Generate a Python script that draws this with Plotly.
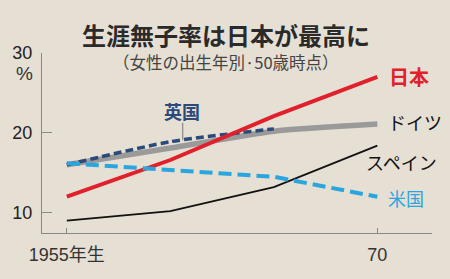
import plotly.graph_objects as go

years = [1955, 1960, 1965, 1970]
japan = [12.0, 16.6, 22.1, 27.0]
germany = [16.0, 18.1, 20.2, 21.1]
spain = [9.0, 10.2, 13.2, 18.4]
usa = [16.2, 15.4, 14.5, 12.0]
uk_years = [1955, 1960, 1965]
uk = [16.0, 18.9, 20.5]

x_tickvals = [1955, 1970]
x_ticktext = ["1955年生", "70"]
y_tickvals = [10, 20, 30]
y_ticktext = ["10", "20", "30"]

BG = "#e6dfd3"
FONT = "Liberation Sans, Noto Sans CJK JP, sans-serif"
CJK = "Noto Sans CJK JP, sans-serif"

fig = go.Figure()
fig.add_trace(go.Scatter(x=years, y=germany, mode="lines",
                         line=dict(color="#9a9a9a", width=5.5, shape="spline", smoothing=0.6)))
fig.add_trace(go.Scatter(x=uk_years, y=uk, mode="lines",
                         line=dict(color="#2b4a7a", width=3.5, dash="8px,4px", shape="spline", smoothing=0.6)))
fig.add_trace(go.Scatter(x=years, y=spain, mode="lines",
                         line=dict(color="#111111", width=1.8)))
fig.add_trace(go.Scatter(x=years, y=japan, mode="lines",
                         line=dict(color="#e0202a", width=4)))
fig.add_trace(go.Scatter(x=years, y=usa, mode="lines",
                         line=dict(color="#2aa6df", width=4, dash="13px,6px")))

labels = [
    ("日本", 1970.45, 27.1, "#e0202a", 20, True),
    ("ドイツ", 1970.4, 21.4, "#111111", 18, False),
    ("スペイン", 1969.34, 16.4, "#111111", 18, False),
    ("米国", 1970.4, 11.9, "#2aa6df", 18, False),
]
for text, x, y, c, s, b in labels:
    fig.add_annotation(x=x, y=y, text=f"<b>{text}</b>" if b else text, showarrow=False,
                       xanchor="left", yanchor="middle",
                       font=dict(family=CJK, size=s, color=c))
fig.add_annotation(x=1960.58, y=22.7, text="<b>英国</b>", showarrow=False,
                   xanchor="center", yanchor="middle",
                   font=dict(family=CJK, size=18, color="#2b4a7a"))
fig.add_shape(type="line", x0=1960.6, x1=1960.6, y0=21.25, y1=19.1,
              line=dict(color="#777777", width=1))

fig.add_annotation(xref="paper", yref="paper", x=-0.0454, y=0.8835, text="%", showarrow=False,
                   xanchor="center", yanchor="middle",
                   font=dict(family=FONT, size=19, color="#333333"))

fig.add_annotation(xref="paper", yref="paper", x=0.472, y=1.105,
                   text="<b>生涯無子率は日本が最高に</b>", showarrow=False,
                   xanchor="center", yanchor="middle",
                   font=dict(family=CJK, size=24, color="#2a2a2a"))
fig.add_annotation(xref="paper", yref="paper", x=0.472, y=0.9501,
                   text="（女性の出生年別·50歳時点）", showarrow=False,
                   xanchor="center", yanchor="middle",
                   font=dict(family=CJK, size=16.5, color="#444444"))

fig.update_layout(
    width=450, height=279,
    margin=dict(l=39.3, r=18.3, t=53, b=45.7),
    paper_bgcolor=BG, plot_bgcolor=BG,
    showlegend=False,
    xaxis=dict(range=[1953.8, 1972.64], tickvals=x_tickvals, ticktext=x_ticktext,
               showgrid=False, zeroline=False, showline=True, linecolor="#888888", linewidth=1,
               ticks="inside", ticklen=5, tickcolor="#888888", ticklabelstandoff=5,
               tickfont=dict(family=FONT, size=18, color="#333333")),
    yaxis=dict(range=[7.46, 30], tickvals=y_tickvals, ticktext=y_ticktext,
               showgrid=False, zeroline=False, showline=True, linecolor="#888888", linewidth=1,
               ticks="inside", ticklen=10, tickcolor="#888888", ticklabelstandoff=5,
               tickfont=dict(family=FONT, size=18, color="#222222")),
)

fig.write_html("out.html")
